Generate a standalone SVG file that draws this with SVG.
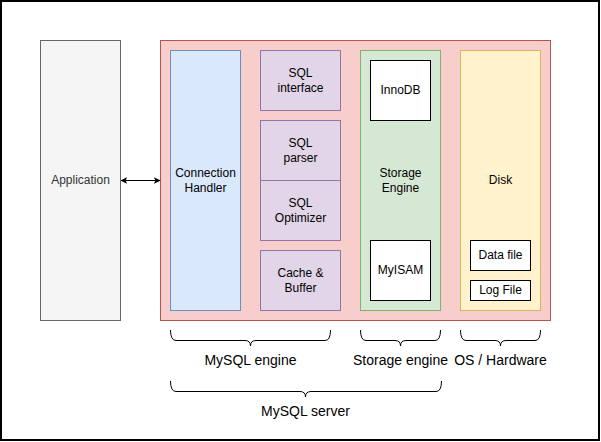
<svg xmlns="http://www.w3.org/2000/svg" width="601" height="442" viewBox="0 0 601 442">
<style>
text{font-family:"Liberation Sans",Arial,Helvetica,sans-serif;font-size:12px;text-anchor:middle;fill:#000}
.lbl{font-size:14px}
.purple{fill:#e1d5e7;stroke:#9673a6}
.box{fill:#fff;stroke:#000}
.brace{fill:none;stroke:#000;stroke-width:1}
</style>
<defs>
<marker id="ah" viewBox="0 0 10 10" refX="9" refY="5" markerWidth="7" markerHeight="7" orient="auto-start-reverse" markerUnits="userSpaceOnUse">
<path d="M0,0 L10,5 L0,10 L2.5,5 Z" fill="#000"/>
</marker>
</defs>
<rect x="1" y="1" width="598" height="439" fill="#fff" stroke="#000" stroke-width="2"/>
<g id="application">
<rect x="40.5" y="40.5" width="80" height="280" fill="#f5f5f5" stroke="#666666"/>
<text x="80.5" y="184.3" style="fill:#333333">Application</text>
</g>
<g id="mysql-server-box">
<rect x="160.5" y="40.5" width="390" height="280" fill="#f8cecc" stroke="#b85450"/>
</g>
<g id="connection-handler">
<rect x="170.5" y="50.5" width="70" height="260" fill="#dae8fc" stroke="#6c8ebf"/>
<text x="205.5" y="177.3">Connection</text>
<text x="205.5" y="191.7">Handler</text>
</g>
<g id="sql-interface">
<rect class="purple" x="260.5" y="50.5" width="80" height="60"/>
<text x="300.5" y="77.3">SQL</text>
<text x="300.5" y="91.7">interface</text>
</g>
<g id="sql-parser">
<rect class="purple" x="260.5" y="120.5" width="80" height="60"/>
<text x="300.5" y="147.3">SQL</text>
<text x="300.5" y="161.7">parser</text>
</g>
<g id="sql-optimizer">
<rect class="purple" x="260.5" y="180.5" width="80" height="60"/>
<text x="300.5" y="207.3">SQL</text>
<text x="300.5" y="221.7">Optimizer</text>
</g>
<g id="cache-buffer">
<rect class="purple" x="260.5" y="250.5" width="80" height="60"/>
<text x="300.5" y="277.3">Cache &amp;</text>
<text x="300.5" y="291.7">Buffer</text>
</g>
<g id="storage-engine">
<rect x="360.5" y="50.5" width="80" height="260" fill="#d5e8d4" stroke="#82b366"/>
<text x="400.5" y="177.3">Storage</text>
<text x="400.5" y="191.7">Engine</text>
</g>
<g id="innodb">
<rect class="box" x="370.5" y="60.5" width="60" height="60"/>
<text x="400.5" y="94.3">InnoDB</text>
</g>
<g id="myisam">
<rect class="box" x="370.5" y="240.5" width="60" height="60"/>
<text x="400.5" y="274.3">MyISAM</text>
</g>
<g id="disk">
<rect x="460.5" y="50.5" width="80" height="260" fill="#fff2cc" stroke="#d6b656"/>
<text x="500.5" y="184.3">Disk</text>
</g>
<g id="data-file">
<rect class="box" x="470.5" y="240.5" width="60" height="30"/>
<text x="500.5" y="259.3">Data file</text>
</g>
<g id="log-file">
<rect class="box" x="470.5" y="280.5" width="60" height="20"/>
<text x="500.5" y="294.3">Log File</text>
</g>
<g id="connectors">
<line x1="121" y1="180.5" x2="160" y2="180.5" stroke="#000" marker-start="url(#ah)" marker-end="url(#ah)"/>
<path class="brace" d="M170.5,330 Q170.5,340.5 176,340.5 L245,340.5 Q250.5,340.5 250.5,346 Q250.5,340.5 256,340.5 L325,340.5 Q330.5,340.5 330.5,330"/>
<path class="brace" d="M360.5,330 Q360.5,340.5 366,340.5 L395,340.5 Q400.5,340.5 400.5,346 Q400.5,340.5 406,340.5 L435,340.5 Q440.5,340.5 440.5,330"/>
<path class="brace" d="M460.5,330 Q460.5,340.5 466,340.5 L495,340.5 Q500.5,340.5 500.5,346 Q500.5,340.5 506,340.5 L535,340.5 Q540.5,340.5 540.5,330"/>
<path class="brace" d="M170.5,381 Q170.5,391.5 176,391.5 L300,391.5 Q305.5,391.5 305.5,397 Q305.5,391.5 311,391.5 L436,391.5 Q441.5,391.5 441.5,381"/>
</g>
<g id="labels">
<text class="lbl" x="250.5" y="365">MySQL engine</text>
<text class="lbl" x="400.5" y="365">Storage engine</text>
<text class="lbl" x="500.5" y="365">OS / Hardware</text>
<text class="lbl" x="305.5" y="416">MySQL server</text>
</g>
</svg>
